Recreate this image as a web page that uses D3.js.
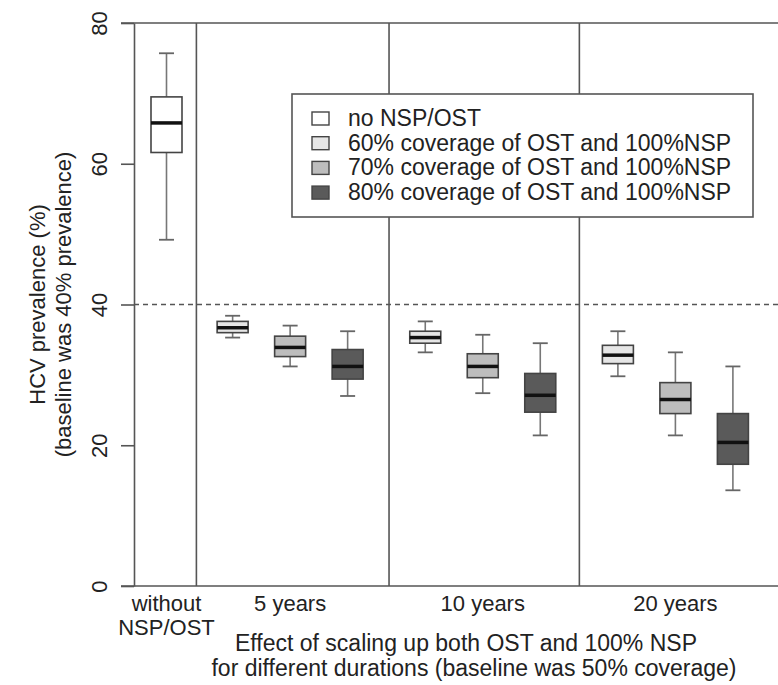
<!DOCTYPE html>
<html>
<head>
<meta charset="utf-8">
<script src="https://cdn.jsdelivr.net/npm/d3@7"></script>
<style>
  body { margin: 0; background: #fff; }
  text { font-family: "Liberation Sans", Arial, sans-serif; fill: #222; }
</style>
</head>
<body>
<svg id="chart" width="778" height="685"></svg>
<script>
// scenarios shown in the legend
var scenarios = ['no NSP/OST',
    '60% coverage of OST and 100%NSP',
    '70% coverage of OST and 100%NSP',
    '80% coverage of OST and 100%NSP'];
// x axis groups
var groupLabels = [['without', 'NSP/OST'], ['5 years'], ['10 years'], ['20 years']];
var groupLabelAt = [1, 3.15, 6.5, 9.85];
var groupBreaks = [1.52, 4.87, 8.18];

// one entry per box
var boxScenario = [0, 1, 2, 3, 1, 2, 3, 1, 2, 3];
var boxAt = [1, 2.15, 3.15, 4.15, 5.5, 6.5, 7.5, 8.85, 9.85, 10.85];
var whiskerLow = [49.2, 35.3, 31.2, 27.0, 33.2, 27.4, 21.4, 29.8, 21.4, 13.6];
var q1 = [61.6, 36.0, 32.6, 29.4, 34.5, 29.6, 24.7, 31.6, 24.5, 17.3];
var median = [65.8, 36.7, 33.9, 31.2, 35.3, 31.2, 27.1, 32.8, 26.5, 20.4];
var q3 = [69.5, 37.6, 35.5, 33.6, 36.2, 33.0, 30.2, 34.2, 28.9, 24.5];
var whiskerHigh = [75.7, 38.4, 37.0, 36.2, 37.6, 35.7, 34.5, 36.2, 33.2, 31.2];

var yTicks = [0, 20, 40, 60, 80];
var baselinePrev = 40;

var fills = ['#ffffff', '#e6e6e6', '#bdbdbd', '#5a5a5a'];

var svg = d3.select('#chart');
var W = 778, plotLeft = 134, plotTop = 23, plotBottom = 586;

var scX = d3.scaleLinear().domain([1, 10.85]).range([166.5, 732.9]);
var scY = d3.scaleLinear().domain([0, 80]).range([plotBottom, plotTop]);
var boxW = 31, capW = 15;

// frame lines
svg.append('g').selectAll('line').data([0, 80]).enter().append('line')
    .attr('x1', 121).attr('x2', W)
    .attr('y1', d => scY(d)).attr('y2', d => scY(d))
    .attr('stroke', '#555').attr('stroke-width', 1.6);

// y axis
var yAxis = svg.append('g').attr('transform', 'translate(' + plotLeft + ',0)')
    .call(d3.axisLeft(scY).tickValues(yTicks).tickSize(13).tickSizeOuter(0));
yAxis.select('.domain').attr('stroke', '#555').attr('stroke-width', 1.6);
yAxis.selectAll('.tick line').attr('stroke', '#555').attr('stroke-width', 1.6);
yAxis.selectAll('.tick text')
    .attr('transform', 'rotate(-90)')
    .attr('x', 0).attr('y', -27).attr('dy', 0)
    .attr('text-anchor', 'middle')
    .style('font-size', '22px').style('font-family', '"Liberation Sans", Arial, sans-serif')
    .attr('fill', '#222');

// group separators
svg.append('g').selectAll('line').data(groupBreaks).enter().append('line')
    .attr('x1', d => scX(d)).attr('x2', d => scX(d))
    .attr('y1', plotTop).attr('y2', plotBottom)
    .attr('stroke', '#555').attr('stroke-width', 1.6);

// baseline prevalence
svg.append('line')
    .attr('x1', plotLeft).attr('x2', W)
    .attr('y1', scY(baselinePrev)).attr('y2', scY(baselinePrev))
    .attr('stroke', '#555').attr('stroke-width', 1.6)
    .attr('stroke-dasharray', '5,4');

// boxes
var boxes = svg.append('g').selectAll('g').data(boxAt).enter().append('g');
boxes.append('line')
    .attr('x1', d => scX(d)).attr('x2', d => scX(d))
    .attr('y1', (d, i) => scY(whiskerLow[i])).attr('y2', (d, i) => scY(q1[i]))
    .attr('stroke', '#777').attr('stroke-width', 1.6);
boxes.append('line')
    .attr('x1', d => scX(d)).attr('x2', d => scX(d))
    .attr('y1', (d, i) => scY(q3[i])).attr('y2', (d, i) => scY(whiskerHigh[i]))
    .attr('stroke', '#777').attr('stroke-width', 1.6);
[whiskerLow, whiskerHigh].forEach(function (arr) {
    boxes.append('line')
        .attr('x1', d => scX(d) - capW / 2).attr('x2', d => scX(d) + capW / 2)
        .attr('y1', (d, i) => scY(arr[i])).attr('y2', (d, i) => scY(arr[i]))
        .attr('stroke', '#666').attr('stroke-width', 1.8);
});
boxes.append('rect')
    .attr('x', d => scX(d) - boxW / 2).attr('width', boxW)
    .attr('y', (d, i) => scY(q3[i]))
    .attr('height', (d, i) => scY(q1[i]) - scY(q3[i]))
    .attr('fill', (d, i) => fills[boxScenario[i]])
    .attr('stroke', '#444').attr('stroke-width', 1.6);
boxes.append('line')
    .attr('x1', d => scX(d) - boxW / 2).attr('x2', d => scX(d) + boxW / 2)
    .attr('y1', (d, i) => scY(median[i])).attr('y2', (d, i) => scY(median[i]))
    .attr('stroke', '#111').attr('stroke-width', 3.5);

// x group labels
var gl = svg.append('g').selectAll('text').data(groupLabels).enter().append('text')
    .attr('x', (d, i) => scX(groupLabelAt[i]))
    .attr('y', 611)
    .attr('text-anchor', 'middle')
    .style('font-size', '22px');
gl.selectAll('tspan').data(d => d).enter().append('tspan')
    .attr('x', function () { return d3.select(this.parentNode).attr('x'); })
    .attr('dy', (d, i) => i ? 24 : 0)
    .text(d => d);

// axis titles
var xTitle = ['Effect of scaling up both OST and 100% NSP',
    'for different durations (baseline was 50% coverage)'];
svg.append('g').selectAll('text').data(xTitle).enter().append('text')
    .attr('x', (d, i) => i ? 474 : 466).attr('y', (d, i) => 651 + i * 25)
    .attr('text-anchor', 'middle').style('font-size', '23px')
    .text(d => d);

var yTitle = ['HCV prevalence (%)', '(baseline was 40% prevalence)'];
svg.append('g').selectAll('text').data(yTitle).enter().append('text')
    .attr('transform', (d, i) => 'translate(' + (45 + i * 26) + ',' + ((plotTop + plotBottom) / 2) + ') rotate(-90)')
    .attr('text-anchor', 'middle').style('font-size', '22px')
    .text(d => d);

// legend
var lg = svg.append('g').attr('transform', 'translate(292,94)');
lg.append('rect').attr('width', 461).attr('height', 123)
    .attr('fill', '#fff').attr('stroke', '#555').attr('stroke-width', 1.6);
var items = lg.selectAll('g.item').data(scenarios).enter().append('g')
    .attr('class', 'item')
    .attr('transform', (d, i) => 'translate(0,' + (24 + i * 24.7) + ')');
items.append('rect')
    .attr('x', 20).attr('y', -6).attr('width', 17).attr('height', 13)
    .attr('fill', (d, i) => fills[i]).attr('stroke', '#444').attr('stroke-width', 1.4);
items.append('text')
    .attr('x', 56).attr('y', 8)
    .style('font-size', '23px')
    .text(d => d);
</script>
</body>
</html>
